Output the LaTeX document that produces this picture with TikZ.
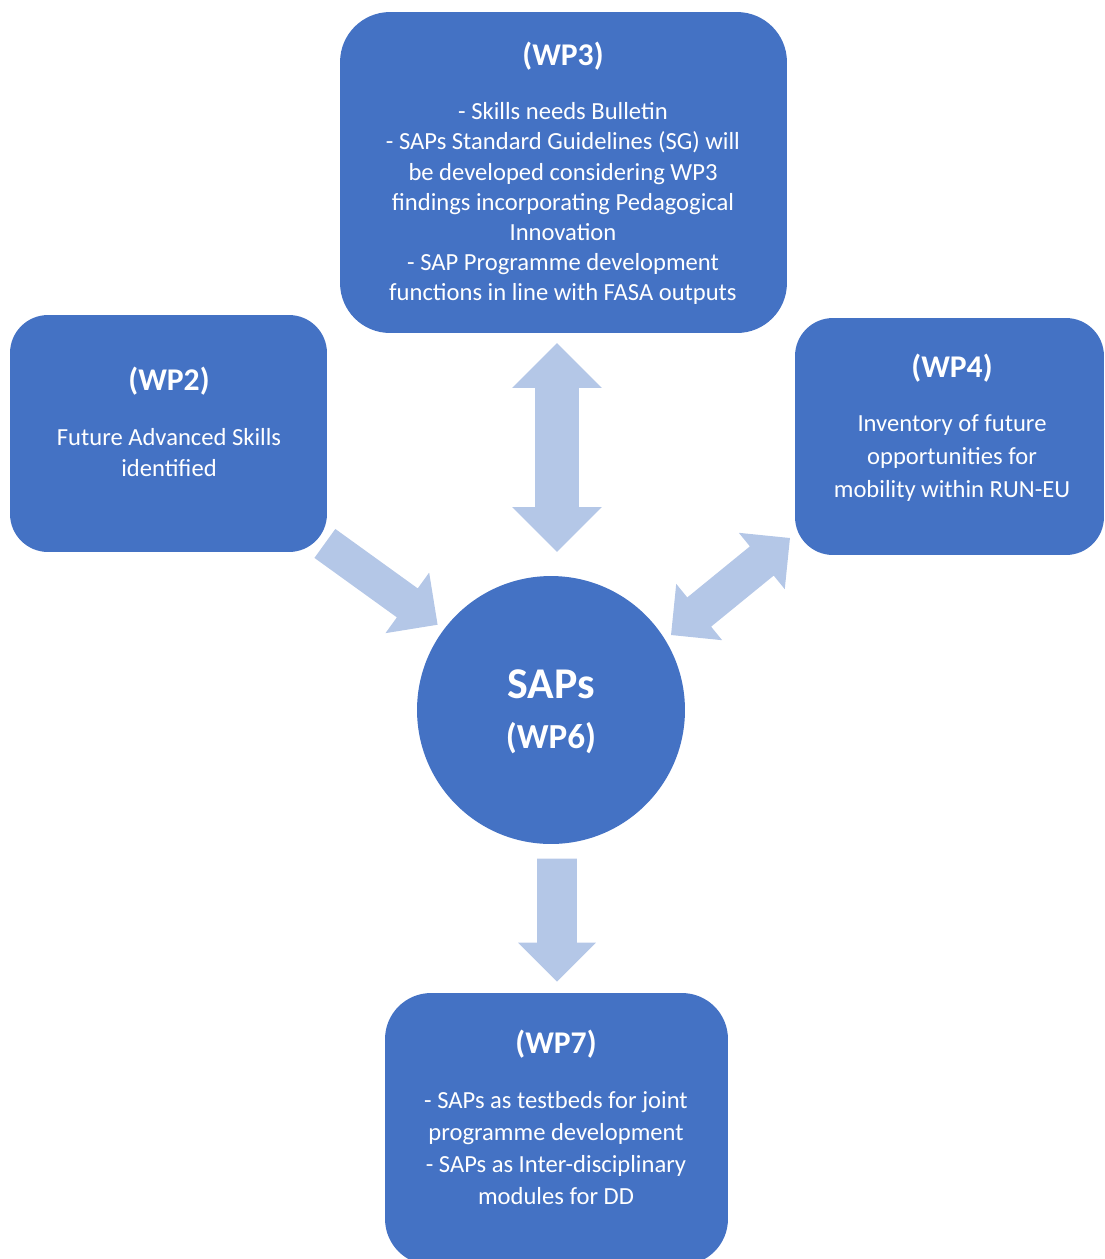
\documentclass[tikz,border=0pt]{standalone}
\usepackage{fontspec}
\setmainfont{Carlito}
\usetikzlibrary{shapes.arrows}
\definecolor{wpblue}{HTML}{4472C4}
\definecolor{arrowblue}{HTML}{B4C7E7}

\tikzset{
  wpbox/.style={rectangle, fill=wpblue, inner sep=0pt},
  wptitle/.style={text=white, inner sep=0pt, font=\fontsize{18}{22}\selectfont\bfseries},
  wpbody/.style={text=white, align=center, inner sep=0pt},
  blockarrow/.style={fill=arrowblue, inner sep=0pt, text height=0pt, text depth=0pt},
}

\begin{document}
\begin{tikzpicture}[x=0.02cm, y=-0.02cm]
	\useasboundingbox (0,0) rectangle (1105,1259);
	% work package boxes
	\node[wpbox, minimum width=8.94cm, minimum height=6.42cm, rounded corners=1cm] (wp3) at (563.5,172.5) {};
	\node[wpbox, minimum width=6.34cm, minimum height=4.74cm, rounded corners=0.76cm] (wp2) at (168.5,433.5) {};
	\node[wpbox, minimum width=6.18cm, minimum height=4.74cm, rounded corners=0.76cm] (wp4) at (949.5,436.5) {};
	\node[wpbox, minimum width=6.86cm, minimum height=5.44cm, rounded corners=0.92cm] (wp7) at (556.5,1129) {};
	\node[circle, fill=wpblue, minimum size=5.36cm, inner sep=0pt] (saps) at (551,710) {};
	% texts
	\node[wptitle] (wp3title) at (563,56) {(WP3)};
	\node[wpbody, font=\fontsize{14}{17.1}\selectfont] (wp3text) at (563,203.5)
		{- Skills needs Bulletin\\- SAPs Standard Guidelines (SG) will\\be developed considering WP3\\findings incorporating Pedagogical\\Innovation\\- SAP Programme development\\functions in line with FASA outputs};
	\node[wptitle] (wp2title) at (169,381) {(WP2)};
	\node[wpbody, font=\fontsize{14}{17.6}\selectfont] (wp2text) at (169,452.5)
		{Future Advanced Skills\\identified};
	\node[wptitle] (wp4title) at (952,368) {(WP4)};
	\node[wpbody, font=\fontsize{14}{18.7}\selectfont] (wp4text) at (952,458)
		{Inventory of future\\opportunities for\\mobility within RUN-EU};
	\node[wptitle] (wp7title) at (556,1044) {(WP7)};
	\node[wpbody, font=\fontsize{14}{18.2}\selectfont] (wp7text) at (556,1148)
		{- SAPs as testbeds for joint\\programme development\\- SAPs as Inter-disciplinary\\modules for DD};
	\node[wptitle, font=\fontsize{25}{30}\selectfont\bfseries] (sapsname) at (551,684) {SAPs};
	\node[wptitle, font=\fontsize{20}{24}\selectfont\bfseries] (wp6title) at (551,738) {(WP6)};
	% arrows
	\node[blockarrow, double arrow, minimum height=4.18cm, minimum width=1.78cm, inner ysep=0.43cm,
		double arrow head extend=0.46cm, rotate=90] (wp3link) at (557,447.5) {};
	\node[blockarrow, double arrow, minimum height=3.07cm, minimum width=1.44cm, inner ysep=0.37cm,
		double arrow head extend=0.35cm, rotate=39.2] (wp4link) at (730.5,586.5) {};
	\node[blockarrow, single arrow, minimum height=2.78cm, minimum width=1.48cm, inner ysep=0.35cm,
		single arrow head extend=0.39cm, rotate=-35.8, anchor=tip] (wp2link) at (438,625) {};
	\node[blockarrow, single arrow, minimum height=2.46cm, minimum width=1.54cm, inner ysep=0.39cm,
		single arrow head extend=0.38cm, rotate=-90, anchor=tip] (wp7link) at (557,982) {};
\end{tikzpicture}
\end{document}
